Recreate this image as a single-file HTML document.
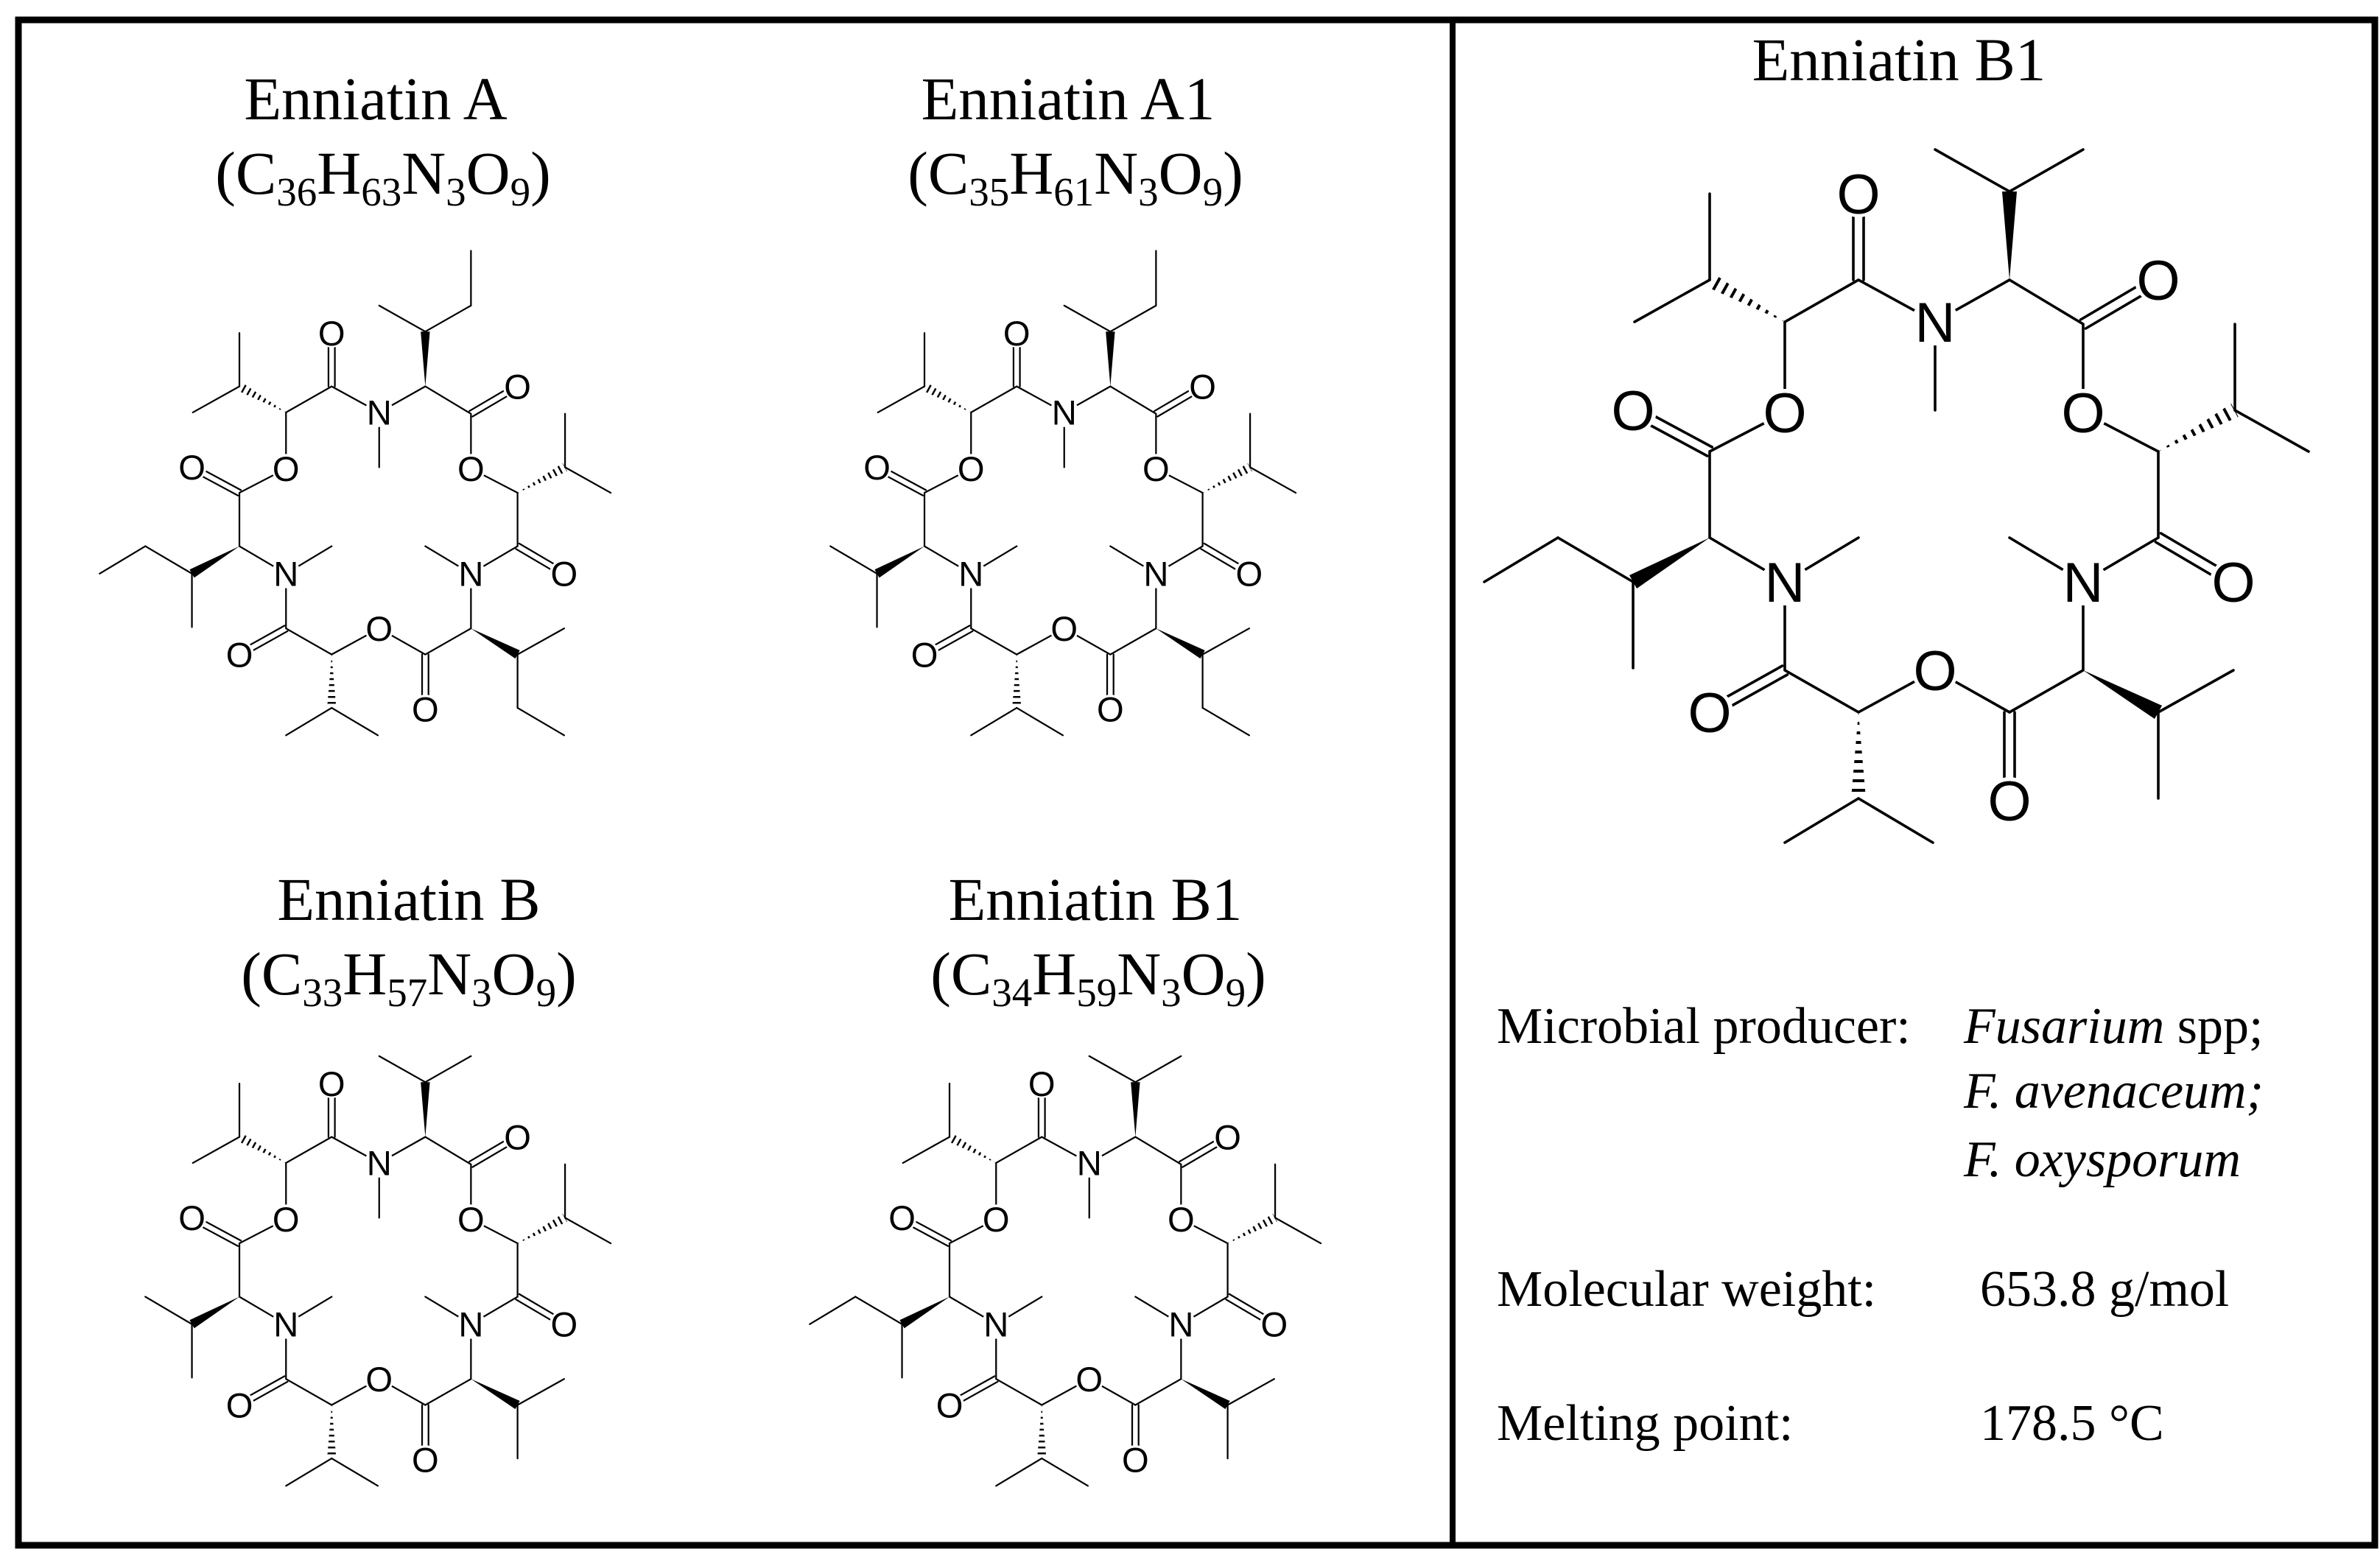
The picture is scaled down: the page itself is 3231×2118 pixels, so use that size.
<!DOCTYPE html>
<html><head><meta charset="utf-8"><style>
html,body{margin:0;padding:0;background:#fff}
svg{display:block}
</style></head><body>
<svg width="3231" height="2118" viewBox="0 0 3231 2118" xmlns="http://www.w3.org/2000/svg">
<rect x="0" y="0" width="3231" height="2118" fill="#fff"/>
<defs>
<clipPath id="h1"><polygon points="2423,437 2326,371 2316,389"/></clipPath>
<clipPath id="h2"><polygon points="2930,613 3039,566 3029,548"/></clipPath>
<clipPath id="h3"><polygon points="2523,967 2513,1084 2533,1084"/></clipPath>
<g id="mol">
 <g stroke="#000" stroke-width="3.6" fill="none" stroke-linecap="round">
  <!-- ring -->
  <polyline points="2523,380 2627,437 2728,380 2828,440 2828,560 2930,613 2930,730 2828,790 2828,910 2728,967 2627,910 2523,967 2423,910 2423,790 2321,730 2321,613 2423,560 2423,437 2523,380"/>
  <!-- methyls on N -->
  <line x1="2627" y1="437" x2="2627" y2="557"/>
  <line x1="2828" y1="790" x2="2728" y2="730"/>
  <line x1="2423" y1="790" x2="2523" y2="730"/>
  <!-- side chains -->
  <line x1="2728" y1="260" x2="2627" y2="203"/><line x1="2728" y1="260" x2="2828" y2="203"/>
  <line x1="3034" y1="557" x2="3034" y2="440"/><line x1="3034" y1="557" x2="3134" y2="613"/>
  <line x1="2930" y1="967" x2="3032" y2="910"/><line x1="2930" y1="967" x2="2930" y2="1084"/>
  <line x1="2523" y1="1084" x2="2423" y2="1144"/><line x1="2523" y1="1084" x2="2624" y2="1144"/>
  <line x1="2217" y1="790" x2="2115" y2="730"/><line x1="2217" y1="790" x2="2217" y2="907"/>
  <line x1="2321" y1="380" x2="2321" y2="263"/><line x1="2321" y1="380" x2="2219" y2="437"/>
  <!-- double bonds -->
  <line x1="2516" y1="380" x2="2516" y2="263"/><line x1="2530" y1="380" x2="2530" y2="263"/>
  <line x1="2824.5" y1="434" x2="2926.5" y2="374"/><line x1="2831.5" y1="446" x2="2933.5" y2="386"/>
  <line x1="2926.5" y1="736" x2="3028.5" y2="796"/><line x1="2933.5" y1="724" x2="3035.5" y2="784"/>
  <line x1="2721" y1="967" x2="2721" y2="1087"/><line x1="2735" y1="967" x2="2735" y2="1087"/>
  <line x1="2426.4" y1="916" x2="2324.4" y2="973"/><line x1="2419.6" y1="904" x2="2317.6" y2="961"/>
  <line x1="2317.7" y1="619" x2="2213.7" y2="563"/><line x1="2324.3" y1="607" x2="2220.3" y2="551"/>
 </g>
 <!-- wedges -->
 <g fill="#000">
  <polygon points="2728,380 2718,260 2738,260"/>
  <polygon points="2828,910 2925,976 2935,958"/>
  <polygon points="2321,730 2222,799 2212,781"/>
 </g>
 <!-- hashed -->
 <g stroke="#000" stroke-width="24" stroke-dasharray="4,9" fill="none">
  <line x1="2423" y1="437" x2="2321" y2="380" clip-path="url(#h1)"/>
  <line x1="2930" y1="613" x2="3034" y2="557" clip-path="url(#h2)"/>
  <line x1="2523" y1="967" x2="2523" y2="1084" clip-path="url(#h3)"/>
 </g>
 <!-- label backgrounds -->
 <g fill="#fff">
  <circle cx="2523" cy="263" r="32"/><circle cx="2627" cy="437" r="32"/>
  <circle cx="2930" cy="380" r="32"/><circle cx="2828" cy="560" r="32"/>
  <circle cx="3032" cy="790" r="32"/><circle cx="2828" cy="790" r="32"/>
  <circle cx="2728" cy="1087" r="32"/><circle cx="2627" cy="910" r="32"/>
  <circle cx="2321" cy="967" r="32"/><circle cx="2423" cy="790" r="32"/>
  <circle cx="2217" cy="557" r="32"/><circle cx="2423" cy="560" r="32"/>
 </g>
 <g font-family="Liberation Sans, Arial, sans-serif" font-size="76" text-anchor="middle" fill="#000">
  <text x="2523" y="290">O</text><text x="2627" y="464">N</text>
  <text x="2930" y="407">O</text><text x="2828" y="587">O</text>
  <text x="3032" y="817">O</text><text x="2828" y="817">N</text>
  <text x="2728" y="1114">O</text><text x="2627" y="937">O</text>
  <text x="2321" y="994">O</text><text x="2423" y="817">N</text>
  <text x="2217" y="584">O</text><text x="2423" y="587">O</text>
 </g>
</g>
<line id="extL" x1="2115" y1="730" x2="2015" y2="790" stroke="#000" stroke-width="3.6" stroke-linecap="round"/>
<line id="extT" x1="2828" y1="203" x2="2828" y2="83" stroke="#000" stroke-width="3.6" stroke-linecap="round"/>
<line id="extB" x1="2930" y1="1084" x2="3032" y2="1144" stroke="#000" stroke-width="3.6" stroke-linecap="round"/>
</defs>

<!-- frame -->
<rect x="25" y="27" width="3199" height="2071" fill="none" stroke="#000" stroke-width="9"/>
<line x1="1972" y1="27" x2="1972" y2="2098" stroke="#000" stroke-width="8"/>

<!-- big structure -->
<use href="#mol"/>
<use href="#extL"/>

<!-- small structures -->
<g transform="translate(-1114,289) scale(0.62)"><use href="#mol"/><use href="#extL"/><use href="#extT"/><use href="#extB"/></g>
<g transform="translate(-184,289) scale(0.62)"><use href="#mol"/><use href="#extT"/><use href="#extB"/></g>
<g transform="translate(-1114,1308) scale(0.62)"><use href="#mol"/></g>
<g transform="translate(-150,1308) scale(0.62)"><use href="#mol"/><use href="#extL"/></g>

<!-- titles -->
<g font-family="Liberation Serif, 'Times New Roman', serif" fill="#000" text-anchor="middle">
 <text x="510" y="162" font-size="83">Enniatin A</text>
 <text x="1450" y="162" font-size="83">Enniatin A1</text>
 <text x="555" y="1249" font-size="83">Enniatin B</text>
 <text x="1487" y="1249" font-size="83">Enniatin B1</text>
 <text x="2578" y="109" font-size="83">Enniatin B1</text>

 <text x="520" y="263" font-size="83">(C<tspan font-size="55" dy="16">36</tspan><tspan dy="-16">H</tspan><tspan font-size="55" dy="16">63</tspan><tspan dy="-16">N</tspan><tspan font-size="55" dy="16">3</tspan><tspan dy="-16">O</tspan><tspan font-size="55" dy="16">9</tspan><tspan dy="-16">)</tspan></text>
 <text x="1460" y="263" font-size="83">(C<tspan font-size="55" dy="16">35</tspan><tspan dy="-16">H</tspan><tspan font-size="55" dy="16">61</tspan><tspan dy="-16">N</tspan><tspan font-size="55" dy="16">3</tspan><tspan dy="-16">O</tspan><tspan font-size="55" dy="16">9</tspan><tspan dy="-16">)</tspan></text>
 <text x="555" y="1350" font-size="83">(C<tspan font-size="55" dy="16">33</tspan><tspan dy="-16">H</tspan><tspan font-size="55" dy="16">57</tspan><tspan dy="-16">N</tspan><tspan font-size="55" dy="16">3</tspan><tspan dy="-16">O</tspan><tspan font-size="55" dy="16">9</tspan><tspan dy="-16">)</tspan></text>
 <text x="1491" y="1350" font-size="83">(C<tspan font-size="55" dy="16">34</tspan><tspan dy="-16">H</tspan><tspan font-size="55" dy="16">59</tspan><tspan dy="-16">N</tspan><tspan font-size="55" dy="16">3</tspan><tspan dy="-16">O</tspan><tspan font-size="55" dy="16">9</tspan><tspan dy="-16">)</tspan></text>
</g>

<!-- right info -->
<g font-family="Liberation Serif, 'Times New Roman', serif" fill="#000" font-size="70">
 <text x="2032" y="1416">Microbial producer:</text>
 <text x="2666" y="1416"><tspan font-style="italic">Fusarium</tspan> spp;</text>
 <text x="2666" y="1504" font-style="italic">F. avenaceum;</text>
 <text x="2666" y="1597" font-style="italic">F. oxysporum</text>
 <text x="2032" y="1773">Molecular weight:</text>
 <text x="2688" y="1773">653.8 g/mol</text>
 <text x="2032" y="1955">Melting point:</text>
 <text x="2688" y="1955">178.5 °C</text>
</g>
</svg>
</body></html>
